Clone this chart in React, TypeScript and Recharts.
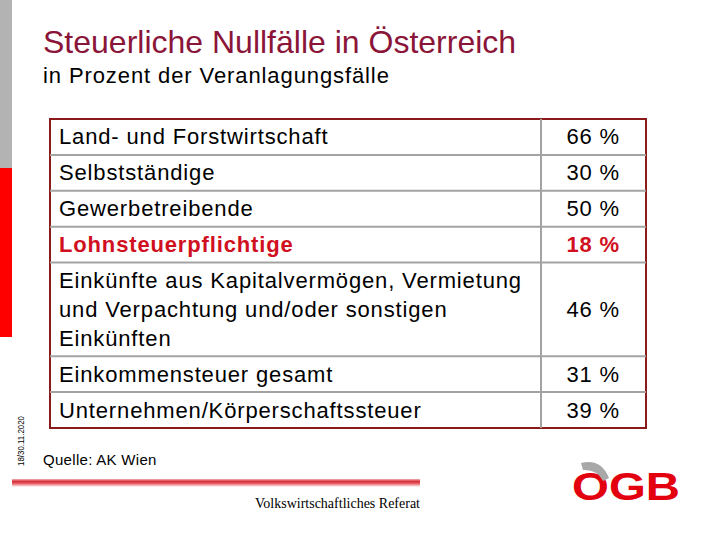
import { ReferenceArea, ReferenceLine, Scatter, ScatterChart, XAxis, YAxis } from "recharts";

// table content
const categories = [
	"Land- und Forstwirtschaft",
	"Selbstständige",
	"Gewerbetreibende",
	"Lohnsteuerpflichtige",
	"Einkünfte aus Kapitalvermögen, Vermietung\nund Verpachtung und/oder sonstigen\nEinkünften",
	"Einkommensteuer gesamt",
	"Unternehmen/Körperschaftssteuer",
];
const shares = [66, 30, 50, 18, 46, 31, 39];
const highlighted = "Lohnsteuerpflichtige";

const title = "Steuerliche Nullfälle in Österreich";
const subtitle = "in Prozent der Veranlagungsfälle";
const source = "Quelle: AK Wien";
const footer = "Volkswirtschaftliches Referat";
const dateLabel = "18/30.11.2020";

const SANS = "'Liberation Sans', Arial, sans-serif";
const MAROON = "#8B1538";
const RED = "#D01020";
const BORDER = "#8B1A1A";
const GRID = "#A3A3A3";

// table frame (plot area of the chart)
const TABLE_LEFT = 50;
const TABLE_TOP = 119;
const TABLE_W = 596;
const TABLE_H = 309;
const DIVIDER_X = 491;
const VALUE_X = 570;
const LINE_H = 29;
const ROW_PAD = 7;

interface Row {
	label: string;
	lines: string[];
	value: number;
	x: number;
	y: number;
	bottom: number;
}

let cursor = 0;
const rows: Row[] = categories.map((label, i) => {
	const lines = label.split("\n");
	const size = lines.length * LINE_H + ROW_PAD;
	const row = { label, lines, value: shares[i], x: 0, y: cursor + size / 2, bottom: cursor + size };
	cursor += size;
	return row;
});
const totalRows = cursor;
const valuePoints = rows.map((r) => ({ ...r, x: VALUE_X }));

function LabelCell(props: any) {
	const { cx, cy, payload } = props;
	const hot = payload.label === highlighted;
	const n = payload.lines.length;
	return (
		<text
			x={cx + 9}
			fontFamily={SANS}
			fontSize={22}
			letterSpacing={0.85}
			fontWeight={hot ? "bold" : "normal"}
			fill={hot ? RED : "#000"}
		>
			{payload.lines.map((line: string, i: number) => (
				<tspan key={i} x={cx + 9} y={cy + 7.5 + (i - (n - 1) / 2) * LINE_H}>
					{line}
				</tspan>
			))}
		</text>
	);
}

function ValueCell(props: any) {
	const { cx, cy, payload } = props;
	const hot = payload.label === highlighted;
	return (
		<text
			x={cx}
			y={cy + 7.5}
			textAnchor="end"
			fontFamily={SANS}
			fontSize={22}
			letterSpacing={0.85}
			fontWeight={hot ? "bold" : "normal"}
			fill={hot ? RED : "#000"}
		>
			{payload.value} %
		</text>
	);
}

export default function App() {
	return (
		<div style={{ position: "relative", width: 720, height: 540, background: "#fff" }}>
			<style>{"body{margin:0}"}</style>
			<svg width={720} height={540} style={{ position: "absolute", left: 0, top: 0 }}>
				<defs>
					<linearGradient id="redline" x1="0" y1="0" x2="0" y2="1">
						<stop offset="0" stopColor="#f4b3b8" />
						<stop offset="0.3" stopColor="#d8303a" />
						<stop offset="0.55" stopColor="#e65a62" />
						<stop offset="1" stopColor="#ffffff" />
					</linearGradient>
				</defs>
				<rect x={0} y={0} width={12} height={168} fill="#B3B3B3" />
				<rect x={0} y={168} width={12} height={169} fill="#FF0000" />
				<text x={43} y={53} fontFamily={SANS} fontSize={32} fill={MAROON}>
					{title}
				</text>
				<text x={43} y={83} fontFamily={SANS} fontSize={22} letterSpacing={0.9} fill="#000">
					{subtitle}
				</text>
				<text
					transform="translate(24 441) rotate(-90)"
					textAnchor="middle"
					fontFamily={SANS}
					fontSize={8.5}
					textLength={50}
					lengthAdjust="spacingAndGlyphs"
					fill="#000"
				>
					{dateLabel}
				</text>
				<text x={43} y={465} fontFamily={SANS} fontSize={15} letterSpacing={0.3} fill="#000">
					{source}
				</text>
				<rect x={12} y={479} width={408} height={8} fill="url(#redline)" />
				<text x={420} y={508} textAnchor="end" fontFamily="'Liberation Serif', 'Times New Roman', serif" fontSize={14} fill="#000">
					{footer}
				</text>
				<text
					x={572}
					y={500}
					fontFamily={SANS}
					fontSize={39}
					fontWeight="bold"
					textLength={108}
					lengthAdjust="spacingAndGlyphs"
					fill="#E3000F"
				>
					OGB
				</text>
				<path d="M 581 463 Q 601 458 609 478 L 603 481 Q 597 469 583 470 Z" fill="#A8A8A8" />
			</svg>
			<div style={{ position: "absolute", left: 0, top: 0 }}>
				<ScatterChart
					width={720}
					height={540}
					margin={{ top: TABLE_TOP, left: TABLE_LEFT, right: 720 - TABLE_LEFT - TABLE_W, bottom: 540 - TABLE_TOP - TABLE_H }}
				>
					<XAxis type="number" dataKey="x" domain={[0, TABLE_W]} allowDataOverflow hide />
					<YAxis type="number" dataKey="y" domain={[0, totalRows]} allowDataOverflow reversed hide />
					{rows.slice(0, -1).map((r) => (
						<ReferenceLine key={r.label} y={r.bottom} stroke={GRID} strokeWidth={2} />
					))}
					<ReferenceLine x={DIVIDER_X} stroke={GRID} strokeWidth={2} />
					<ReferenceArea x1={0} x2={TABLE_W} y1={0} y2={totalRows} fill="none" stroke={BORDER} strokeWidth={2} />
					<Scatter data={rows} shape={LabelCell} isAnimationActive={false} />
					<Scatter data={valuePoints} shape={ValueCell} isAnimationActive={false} />
				</ScatterChart>
			</div>
		</div>
	);
}
